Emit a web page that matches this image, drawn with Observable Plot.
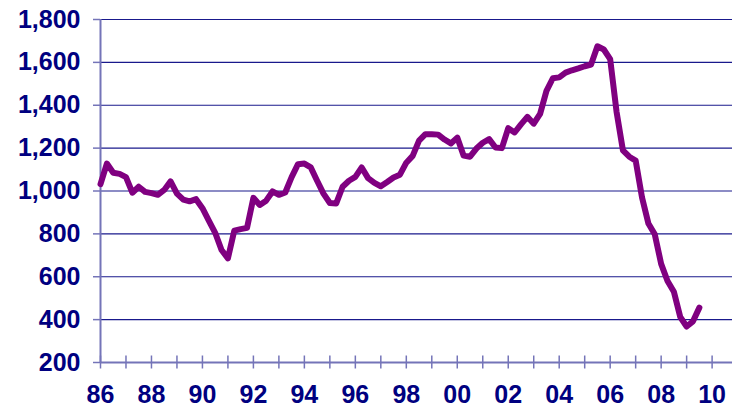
<!DOCTYPE html>
<html>
<head>
<meta charset="utf-8">
<script src="https://cdn.jsdelivr.net/npm/d3@7"></script>
<script src="https://cdn.jsdelivr.net/npm/@observablehq/plot@0.6"></script>
<style>
  html, body { margin: 0; padding: 0; background: #fff; }
</style>
</head>
<body>
<div id="chart"></div>
<script>
// Quarterly values, 1986 Q1 .. 2009 Q3 (thousands of units)
const values = [
  1032, 1128, 1085, 1080, 1065, 992, 1020, 996, 990, 982, 1005, 1045,
  988, 960, 952, 962, 920, 862, 805, 725, 686, 815, 822, 828,
  968, 935, 955, 998, 982, 993, 1065, 1125, 1128, 1110, 1048, 988,
  944, 942, 1020, 1048, 1066, 1110, 1060, 1038, 1022, 1042, 1063, 1076,
  1132, 1164, 1235, 1265, 1265, 1263, 1240, 1222, 1249, 1165, 1160, 1198,
  1225, 1242, 1203, 1200, 1293, 1273, 1311, 1346, 1314, 1360, 1467, 1526,
  1530, 1552, 1563, 1572, 1582, 1590, 1675, 1660, 1615, 1370, 1190, 1160,
  1142, 970, 848, 798, 660, 580, 530, 412, 368, 392, 456
];
const startYear = 1986;
const quarters = values.map((_, i) => startYear + i * 0.25);
const yTicks = [200, 400, 600, 800, 1000, 1200, 1400, 1600, 1800];
const gridValues = [400, 600, 800, 1000, 1200, 1400, 1600, 1800];
const yearTicks = d3.range(1986, 2011, 1);
const labelTicks = d3.range(1986, 2011, 2);

const data = quarters.map((t, i) => ({t, v: values[i]}));

const navy = "#000080";
const axisBlue = "#7474b8";
const font = "'Liberation Sans Narrow', 'Arial Narrow', 'Liberation Sans', Arial, sans-serif";

const chart = Plot.plot({
  width: 734,
  height: 409,
  marginLeft: 100,
  marginRight: 2,
  marginTop: 19,
  marginBottom: 47,
  style: {fontFamily: font, fontWeight: "bold", color: navy, background: "#fff", overflow: "visible"},
  x: {domain: [1986, 2010.8]},
  y: {domain: [200, 1800]},
  marks: [
    Plot.ruleY(gridValues, {stroke: navy, strokeWidth: 1.2, strokeOpacity: 0.9}),
    Plot.axisY({ticks: yTicks, tickSize: 7, tickPadding: 13, tickFormat: d3.format(","),
      stroke: axisBlue, strokeWidth: 1.5, fontSize: 25, fill: navy, label: null}),
    Plot.axisX({ticks: yearTicks, tickSize: 13, dy: -6.5, text: null, stroke: axisBlue, strokeWidth: 1.5, label: null}),
    Plot.axisX({ticks: labelTicks, tickSize: 0, tickPadding: 23,
      tickFormat: d => String(d % 100).padStart(2, "0"), fontSize: 25, fill: navy, label: null}),
    Plot.ruleY([200], {stroke: axisBlue, strokeWidth: 2}),
    Plot.ruleX([1986], {stroke: axisBlue, strokeWidth: 2}),
    Plot.line(data, {x: "t", y: "v", stroke: "#800080", strokeWidth: 6, strokeLinejoin: "round", strokeLinecap: "round"})
  ]
});
document.getElementById("chart").appendChild(chart);
</script>
</body>
</html>
